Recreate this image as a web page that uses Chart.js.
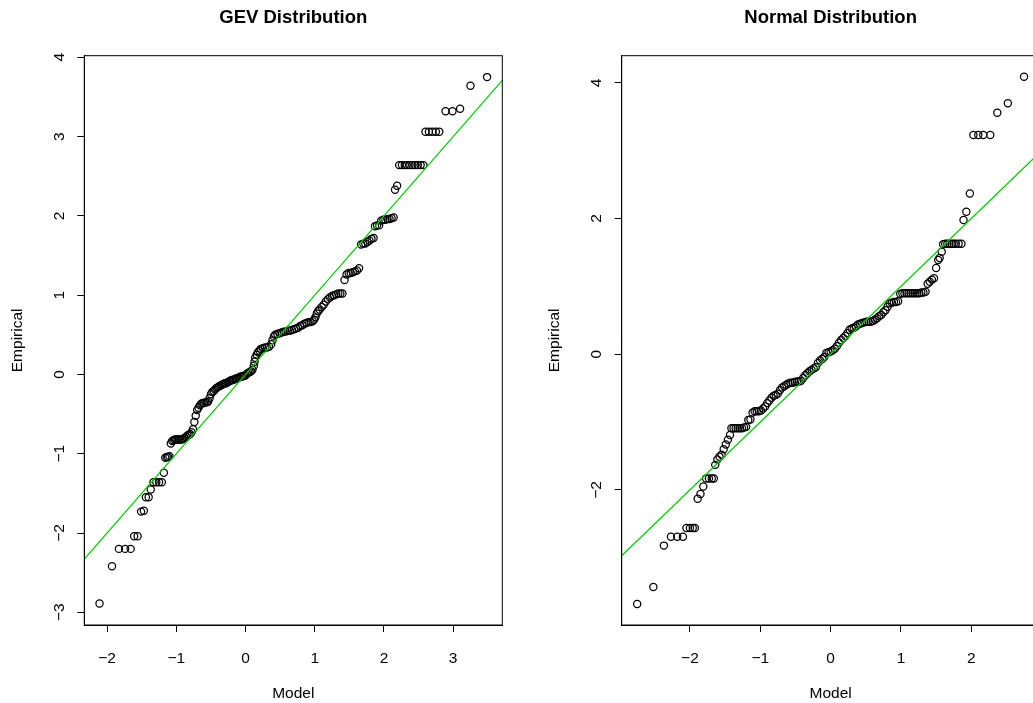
<!DOCTYPE html>
<html>
<head>
    <title>QQ plots</title>
    <script src="https://cdn.jsdelivr.net/npm/chart.js"></script>
    <style>
        html, body {
            margin: 0;
            padding: 0;
            background-color: #ffffff;
            overflow: hidden;
        }
        body {
            width: 1033px;
            height: 703px;
            position: relative;
        }
        canvas {
            position: absolute;
            top: 0;
        }
        #gev { left: 0; }
        #normal { left: 520px; }
    </style>
</head>
<body>
    <canvas id="gev" width="520" height="703"></canvas>
    <canvas id="normal" width="540" height="703"></canvas>
    <script>
        // GEV panel: model quantiles (x) against empirical quantiles (y)
        var gevModel = [
            -2.11, -1.93, -1.83, -1.74, -1.66, -1.61, -1.56, -1.51, -1.47, -1.44,
            -1.40, -1.37, -1.33, -1.29, -1.25, -1.21, -1.18, -1.16, -1.14, -1.12,
            -1.10, -1.08, -1.06, -1.04, -1.02, -1.00, -0.98, -0.96, -0.94, -0.92,
            -0.90, -0.88, -0.86, -0.84, -0.82, -0.80, -0.78, -0.76, -0.74, -0.72,
            -0.70, -0.68, -0.66, -0.64, -0.62, -0.60, -0.58, -0.56, -0.54, -0.52,
            -0.50, -0.48, -0.46, -0.44, -0.42, -0.40, -0.38, -0.36, -0.34, -0.32,
            -0.30, -0.28, -0.26, -0.24, -0.22, -0.20, -0.18, -0.16, -0.14, -0.12,
            -0.10, -0.08, -0.06, -0.04, -0.02, 0.00, 0.02, 0.04, 0.06, 0.08,
            0.10, 0.12, 0.13, 0.14, 0.16, 0.18, 0.20, 0.22, 0.25, 0.28,
            0.31, 0.34, 0.37, 0.39, 0.41, 0.43, 0.46, 0.49, 0.52, 0.55,
            0.58, 0.61, 0.64, 0.67, 0.70, 0.73, 0.76, 0.79, 0.82, 0.85,
            0.88, 0.91, 0.94, 0.97, 0.99, 1.01, 1.03, 1.05, 1.07, 1.10,
            1.13, 1.16, 1.19, 1.22, 1.25, 1.28, 1.31, 1.34, 1.37, 1.40,
            1.43, 1.46, 1.49, 1.52, 1.55, 1.58, 1.61, 1.64, 1.67, 1.70,
            1.73, 1.76, 1.79, 1.82, 1.85, 1.87, 1.90, 1.93, 1.96, 1.99,
            2.02, 2.05, 2.08, 2.11, 2.14, 2.16, 2.19, 2.22, 2.26, 2.30,
            2.33, 2.37, 2.41, 2.45, 2.49, 2.53, 2.57, 2.60, 2.65, 2.70,
            2.75, 2.80, 2.89, 2.99, 3.10, 3.25, 3.49
        ];
        var gevEmpirical = [
            -2.89, -2.42, -2.20, -2.20, -2.20, -2.04, -2.04, -1.73, -1.72, -1.55,
            -1.55, -1.45, -1.36, -1.36, -1.36, -1.36, -1.24, -1.05, -1.04, -1.04,
            -1.03, -0.87, -0.84, -0.83, -0.82, -0.82, -0.82, -0.82, -0.82, -0.82,
            -0.81, -0.80, -0.79, -0.77, -0.76, -0.75, -0.73, -0.69, -0.60, -0.52,
            -0.45, -0.42, -0.39, -0.37, -0.36, -0.36, -0.35, -0.35, -0.34, -0.30,
            -0.25, -0.22, -0.21, -0.19, -0.17, -0.16, -0.15, -0.14, -0.13, -0.12,
            -0.11, -0.11, -0.10, -0.09, -0.08, -0.07, -0.07, -0.06, -0.05, -0.05,
            -0.04, -0.03, -0.03, -0.02, -0.02, -0.01, 0.01, 0.02, 0.03, 0.04,
            0.06, 0.11, 0.16, 0.21, 0.25, 0.28, 0.30, 0.32, 0.33, 0.34,
            0.34, 0.35, 0.38, 0.43, 0.48, 0.50, 0.51, 0.52, 0.53, 0.54,
            0.54, 0.55, 0.55, 0.56, 0.57, 0.58, 0.59, 0.61, 0.62, 0.64,
            0.65, 0.66, 0.66, 0.67, 0.69, 0.72, 0.77, 0.80, 0.82, 0.85,
            0.88, 0.92, 0.95, 0.97, 0.99, 1.00, 1.01, 1.02, 1.02, 1.02,
            1.19, 1.26, 1.28, 1.28, 1.29, 1.30, 1.31, 1.34, 1.64, 1.65,
            1.65, 1.67, 1.69, 1.71, 1.72, 1.87, 1.88, 1.88, 1.94, 1.95,
            1.95, 1.96, 1.96, 1.97, 1.98, 2.33, 2.38, 2.64, 2.64, 2.64,
            2.64, 2.64, 2.64, 2.64, 2.64, 2.64, 2.64, 3.06, 3.06, 3.06,
            3.06, 3.06, 3.32, 3.32, 3.35, 3.64, 3.75
        ];
        var gevXRange = [-2.33, 3.71];
        var gevYRange = [-3.16, 4.02];
        var gevXTicks = [-2, -1, 0, 1, 2, 3];
        var gevYTicks = [-3, -2, -1, 0, 1, 2, 3, 4];
        var gevLineX = [-2.33, 3.71];
        var gevLineY = [-2.33, 3.71];

        // Normal panel
        var normModel = [
            -2.75, -2.52, -2.37, -2.27, -2.18, -2.10, -2.05, -2.00, -1.96, -1.93,
            -1.89, -1.85, -1.81, -1.77, -1.73, -1.69, -1.66, -1.64, -1.61, -1.58,
            -1.55, -1.52, -1.49, -1.46, -1.43, -1.41, -1.38, -1.35, -1.32, -1.29,
            -1.26, -1.23, -1.20, -1.17, -1.14, -1.11, -1.08, -1.05, -1.02, -0.99,
            -0.96, -0.93, -0.90, -0.87, -0.84, -0.81, -0.78, -0.75, -0.72, -0.69,
            -0.66, -0.63, -0.60, -0.57, -0.54, -0.51, -0.48, -0.45, -0.42, -0.39,
            -0.36, -0.33, -0.30, -0.27, -0.24, -0.21, -0.18, -0.15, -0.12, -0.09,
            -0.06, -0.03, 0.00, 0.03, 0.06, 0.09, 0.12, 0.15, 0.18, 0.21,
            0.24, 0.27, 0.30, 0.33, 0.36, 0.39, 0.42, 0.45, 0.48, 0.51,
            0.54, 0.57, 0.60, 0.63, 0.66, 0.69, 0.72, 0.75, 0.78, 0.81,
            0.84, 0.87, 0.90, 0.93, 0.96, 0.99, 1.02, 1.05, 1.08, 1.11,
            1.14, 1.17, 1.20, 1.23, 1.26, 1.29, 1.32, 1.35, 1.38, 1.41,
            1.44, 1.47, 1.50, 1.53, 1.55, 1.58, 1.60, 1.63, 1.66, 1.69,
            1.72, 1.75, 1.78, 1.82, 1.86, 1.89, 1.93, 1.98, 2.03, 2.10,
            2.17, 2.27, 2.37, 2.52, 2.75
        ];
        var normEmpirical = [
            -3.68, -3.43, -2.82, -2.69, -2.69, -2.69, -2.56, -2.56, -2.56, -2.56,
            -2.13, -2.06, -1.95, -1.83, -1.83, -1.83, -1.83, -1.63, -1.55, -1.51,
            -1.48, -1.40, -1.33, -1.26, -1.19, -1.09, -1.09, -1.09, -1.09, -1.09,
            -1.09, -1.08, -1.07, -0.97, -0.96, -0.86, -0.84, -0.84, -0.84, -0.83,
            -0.80, -0.77, -0.72, -0.68, -0.64, -0.61, -0.60, -0.58, -0.53, -0.49,
            -0.47, -0.45, -0.43, -0.42, -0.42, -0.41, -0.40, -0.40, -0.39, -0.35,
            -0.31, -0.28, -0.25, -0.23, -0.21, -0.19, -0.13, -0.09, -0.07, -0.04,
            0.02, 0.03, 0.04, 0.06, 0.08, 0.12, 0.17, 0.21, 0.24, 0.27,
            0.31, 0.36, 0.38, 0.39, 0.41, 0.44, 0.45, 0.46, 0.47, 0.48,
            0.48, 0.48, 0.49, 0.51, 0.53, 0.56, 0.58, 0.62, 0.65, 0.70,
            0.75, 0.76, 0.77, 0.77, 0.78, 0.89, 0.90, 0.90, 0.90, 0.90,
            0.90, 0.90, 0.90, 0.90, 0.90, 0.91, 0.91, 0.92, 1.04, 1.07,
            1.10, 1.12, 1.27, 1.39, 1.42, 1.51, 1.62, 1.63, 1.63, 1.63,
            1.63, 1.63, 1.63, 1.63, 1.63, 1.98, 2.10, 2.37, 3.23, 3.23,
            3.23, 3.23, 3.56, 3.70, 4.09
        ];
        var normXRange = [-2.97, 2.97];
        var normYRange = [-3.99, 4.40];
        var normXTicks = [-2, -1, 0, 1, 2];
        var normYTicks = [-2, 0, 2, 4];
        var normLineX = [-2.97, 2.97];
        var normLineY = [-2.97, 2.97];

        var fontFamily = '"Liberation Sans", Arial, Helvetica, sans-serif';
        Chart.defaults.font.family = fontFamily;
        Chart.defaults.font.size = 15.5;
        Chart.defaults.color = '#000000';

        function minusLabel(v) {
            return String(v).replace('-', '\u2212');
        }

        function toPoints(xs, ys) {
            return xs.map(function(x, i) { return {x: x, y: ys[i]}; });
        }

        // box round the plot region, bold title and R style rotated y labels
        var rFrame = {
            id: 'rFrame',
            afterDraw: function(chart, args, opts) {
                var ctx = chart.ctx;
                var a = chart.chartArea;
                ctx.save();
                ctx.strokeStyle = '#000000';
                ctx.lineWidth = 1;
                ctx.strokeRect(a.left, a.top, a.right - a.left, a.bottom - a.top);

                ctx.fillStyle = '#000000';
                ctx.textAlign = 'center';
                ctx.textBaseline = 'middle';
                ctx.font = 'bold 18.5px ' + fontFamily;
                ctx.fillText(opts.text, (a.left + a.right) / 2, 18);

                ctx.font = '15.5px ' + fontFamily;
                var yScale = chart.scales.y;
                yScale.ticks.forEach(function(t) {
                    var py = yScale.getPixelForValue(t.value);
                    ctx.save();
                    ctx.translate(a.left - 25, py);
                    ctx.rotate(-Math.PI / 2);
                    ctx.fillText(minusLabel(t.value), 0, 0);
                    ctx.restore();
                });
                ctx.restore();
            }
        };

        function makeChart(id, title, xs, ys, lineX, lineY, xRange, yRange, xTicks, yTicks, padLeft, padRight) {
            var ctx = document.getElementById(id).getContext('2d');
            return new Chart(ctx, {
                type: 'scatter',
                data: {
                    datasets: [{
                        // reference line, drawn over the points
                        data: toPoints(lineX, lineY),
                        showLine: true,
                        borderColor: 'rgb(0, 205, 0)',
                        borderWidth: 1.2,
                        pointRadius: 0
                    }, {
                        data: toPoints(xs, ys),
                        showLine: false,
                        pointStyle: 'circle',
                        pointRadius: 3.6,
                        borderWidth: 1.25,
                        borderColor: '#000000',
                        backgroundColor: 'rgba(0,0,0,0)'
                    }]
                },
                options: {
                    responsive: false,
                    animation: false,
                    events: [],
                    layout: {
                        padding: {left: padLeft, right: padRight, top: 55.7, bottom: 0}
                    },
                    plugins: {
                        legend: {display: false},
                        tooltip: {enabled: false},
                        rFrame: {text: title}
                    },
                    scales: {
                        x: {
                            type: 'linear',
                            min: xRange[0],
                            max: xRange[1],
                            afterBuildTicks: function(axis) {
                                axis.ticks = xTicks.map(function(v) { return {value: v}; });
                            },
                            afterFit: function(axis) { axis.height = 78; },
                            grid: {
                                drawOnChartArea: false,
                                drawTicks: true,
                                tickLength: 7,
                                color: '#000000'
                            },
                            border: {display: true, color: '#000000'},
                            ticks: {
                                padding: 17,
                                maxRotation: 0,
                                callback: minusLabel
                            },
                            title: {
                                display: true,
                                text: 'Model',
                                padding: {top: 0, bottom: 0}
                            }
                        },
                        y: {
                            type: 'linear',
                            min: yRange[0],
                            max: yRange[1],
                            afterBuildTicks: function(axis) {
                                axis.ticks = yTicks.map(function(v) { return {value: v}; });
                            },
                            afterFit: function(axis) { axis.width = 84.3; },
                            grid: {
                                drawOnChartArea: false,
                                drawTicks: true,
                                tickLength: 7,
                                color: '#000000'
                            },
                            border: {display: true, color: '#000000'},
                            ticks: {display: false},
                            title: {
                                display: true,
                                text: 'Empirical',
                                padding: {top: 8, bottom: 0}
                            }
                        }
                    }
                },
                plugins: [rFrame]
            });
        }

        makeChart('gev', 'GEV Distribution', gevModel, gevEmpirical, gevLineX, gevLineY,
            gevXRange, gevYRange, gevXTicks, gevYTicks, 0, 17.7);
        makeChart('normal', 'Normal Distribution', normModel, normEmpirical, normLineX, normLineY,
            normXRange, normYRange, normXTicks, normYTicks, 17.4, 20.5);
    </script>
</body>
</html>
